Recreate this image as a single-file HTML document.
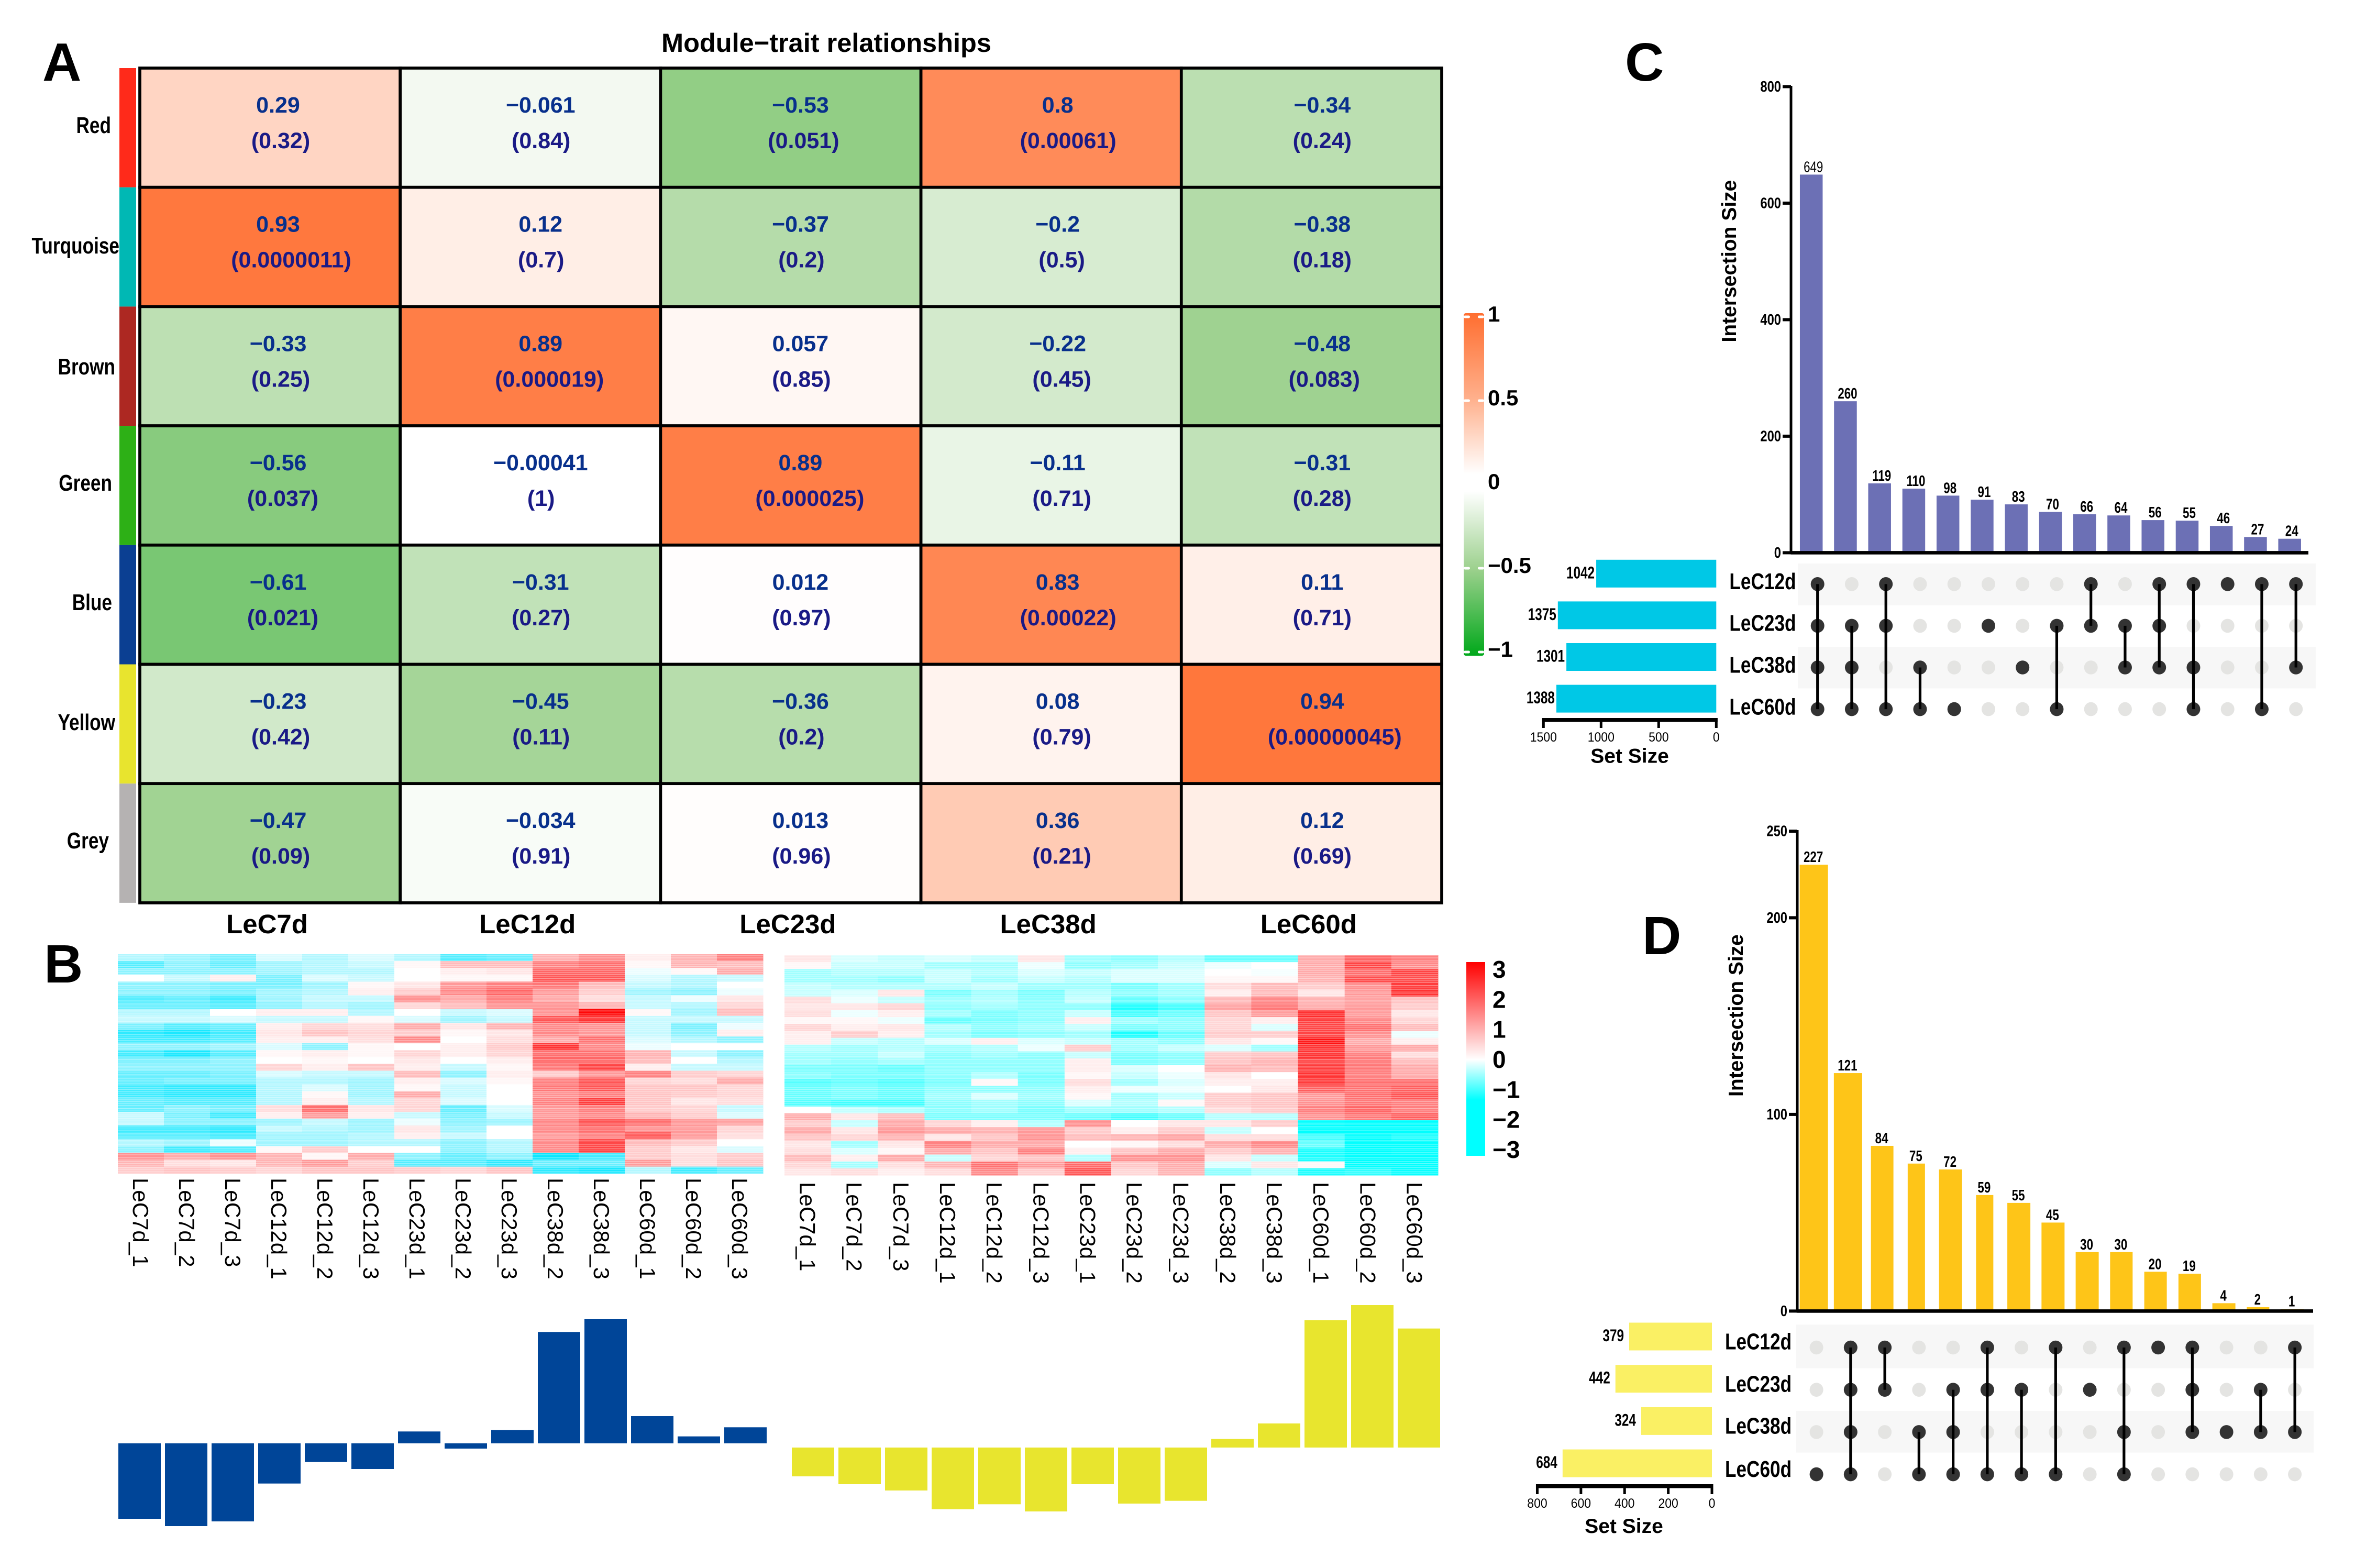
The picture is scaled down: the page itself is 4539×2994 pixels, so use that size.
<!DOCTYPE html>
<html lang="en">
<head>
<meta charset="utf-8">
<title>Module-trait relationships composite figure</title>
<style>
html,body{margin:0;padding:0;background:#fff;}
svg{display:block;}
text{font-family:"Liberation Sans",sans-serif;}
</style>
</head>
<body>
<svg id="figure" xmlns="http://www.w3.org/2000/svg" width="4539" height="2994" viewBox="0 0 4539 2994">
  <defs>
    <linearGradient id="corrGrad" x1="0" y1="0" x2="0" y2="1">
      <stop offset="0" stop-color="#ff6e30"/>
      <stop offset="0.25" stop-color="#ffb08c"/>
      <stop offset="0.47" stop-color="#ffffff"/>
      <stop offset="0.52" stop-color="#ffffff"/>
      <stop offset="0.75" stop-color="#9bd08c"/>
      <stop offset="1" stop-color="#00a81a"/>
    </linearGradient>
    <linearGradient id="exprGrad" x1="0" y1="0" x2="0" y2="1">
      <stop offset="0" stop-color="#ff0000"/>
      <stop offset="0.504" stop-color="#ffffff"/>
      <stop offset="0.712" stop-color="#00ffff"/>
      <stop offset="1" stop-color="#00ffff"/>
    </linearGradient>
    <pattern id="stripes" width="10" height="47" patternUnits="userSpaceOnUse">
      <rect x="0" y="1" width="10" height="1.5" fill="#fff" opacity=".4"/>
      <rect x="0" y="4.5" width="10" height="1" fill="#fff" opacity=".3"/>
      <rect x="0" y="8" width="10" height="2" fill="#fff" opacity=".28"/>
      <rect x="0" y="12" width="10" height="1" fill="#fff" opacity=".42"/>
      <rect x="0" y="15" width="10" height="2.5" fill="#fff" opacity=".26"/>
      <rect x="0" y="20" width="10" height="1" fill="#fff" opacity=".4"/>
      <rect x="0" y="23" width="10" height="1.5" fill="#fff" opacity=".3"/>
      <rect x="0" y="27" width="10" height="1" fill="#fff" opacity=".38"/>
      <rect x="0" y="30" width="10" height="2.5" fill="#fff" opacity=".24"/>
      <rect x="0" y="35" width="10" height="1" fill="#fff" opacity=".42"/>
      <rect x="0" y="38" width="10" height="1.5" fill="#fff" opacity=".3"/>
      <rect x="0" y="42" width="10" height="2" fill="#fff" opacity=".26"/>
    </pattern>
  </defs>
  <rect x="0" y="0" width="4539" height="2994" fill="#ffffff"/>
  <text x="81" y="154" font-size="103" font-weight="700">A</text>
  <text x="84" y="1876" font-size="103" font-weight="700">B</text>
  <text x="3103" y="154" font-size="103" font-weight="700">C</text>
  <text x="3136" y="1822" font-size="103" font-weight="700">D</text>
  <text x="1263" y="99" font-size="50.5" font-weight="700">Module−trait relationships</text>
</svg>
<script>
/* ---------- Panel A data ---------- */
const moduleNames = ['Red','Turquoise','Brown','Green','Blue','Yellow','Grey'];
const moduleColors = ['#ff2a1a','#00b8b4','#ad2822','#2db016','#0b3f92','#e8e42e','#b5b2b2'];
const traitNames = ['LeC7d','LeC12d','LeC23d','LeC38d','LeC60d'];
const corrRed = [0.29,-0.061,-0.53,0.8,-0.34];
const corrTurquoise = [0.93,0.12,-0.37,-0.2,-0.38];
const corrBrown = [-0.33,0.89,0.057,-0.22,-0.48];
const corrGreen = [-0.56,-0.00041,0.89,-0.11,-0.31];
const corrBlue = [-0.61,-0.31,0.012,0.83,0.11];
const corrYellow = [-0.23,-0.45,-0.36,0.08,0.94];
const corrGrey = [-0.47,-0.034,0.013,0.36,0.12];
const pRed = ['0.32','0.84','0.051','0.00061','0.24'];
const pTurquoise = ['0.0000011','0.7','0.2','0.5','0.18'];
const pBrown = ['0.25','0.000019','0.85','0.45','0.083'];
const pGreen = ['0.037','1','0.000025','0.71','0.28'];
const pBlue = ['0.021','0.27','0.97','0.00022','0.71'];
const pYellow = ['0.42','0.11','0.2','0.79','0.00000045'];
const pGrey = ['0.09','0.91','0.96','0.21','0.69'];
const corrMatrix = [corrRed,corrTurquoise,corrBrown,corrGreen,corrBlue,corrYellow,corrGrey];
const pMatrix = [pRed,pTurquoise,pBrown,pGreen,pBlue,pYellow,pGrey];
const corrLegendTicks = [1,0.5,0,-0.5,-1];

/* ---------- Panel B data ---------- */
const sampleNames = ['LeC7d_1','LeC7d_2','LeC7d_3','LeC12d_1','LeC12d_2','LeC12d_3','LeC23d_1','LeC23d_2','LeC23d_3','LeC38d_2','LeC38d_3','LeC60d_1','LeC60d_2','LeC60d_3'];
const exprBlue = [
[-0.4,-0.5,-0.7,-0.2,-0.4,-0.2,-0.4,-0.9,-0.8,0.9,1.3,0.2,0.9,1.5],
[-0.9,-0.6,-0.8,-0.5,-0.4,-0.3,0.1,0.8,0.8,1.5,1.7,0.1,0.9,0.8],
[-0.6,-0.6,-0.6,-0.5,-0.4,-0.4,0,0.2,0.3,1.8,1.8,-0.1,0.1,1.0],
[0,-0.3,0.2,-0.7,-0.2,-0.3,0,0.1,0.1,2.0,2.0,-0.2,-0.4,-0.3],
[-0.6,-0.6,-0.7,-0.7,-0.5,0.1,0.3,1.2,1.5,1.6,0.8,-0.3,-0.4,0],
[-0.6,-0.6,-0.7,-0.5,-0.4,0.2,0.6,1.4,1.8,1.2,0.6,-0.5,-0.6,-0.1],
[-0.9,-0.8,-1,-0.5,-0.3,-0.3,1.3,1.0,1.5,1.0,0.4,-0.3,-0.1,0.3],
[-0.8,-0.8,-0.9,-0.6,-0.4,-0.5,0.5,0.8,1.3,1.3,0.9,-0.3,-0.4,0.5],
[-0.4,-0.4,0,0.2,0.2,-0.4,0,-0.3,-0.2,1.3,3.0,0.1,-0.5,0.8],
[-0.3,-0.3,-0.2,-0.3,-0.3,0.1,-0.2,-0.5,-0.3,2.0,2.4,-0.3,-0.3,-0.3],
[-0.7,-0.9,-0.8,0.2,0.5,0.4,1.0,0.3,0.9,1.4,1.3,-0.3,-0.7,-0.1],
[-1.1,-1.2,-1,0.3,0.7,0.5,0.6,0.1,0.3,1.4,1.2,-0.3,-0.6,0.2],
[-1,-1,-0.9,0.2,0.2,0.4,1.4,0,0.4,1.0,1.7,-0.2,-0.4,-0.6],
[-0.6,-0.6,-0.5,-0.2,-0.6,0.1,0,0.2,0.6,2.4,1.4,-0.1,0,0],
[-1,-1.2,-0.9,0.1,0.2,0.1,0.5,0.2,0.5,1.7,1.7,0.9,-0.3,-0.6],
[-0.7,-0.7,-0.6,0,0.1,0,0.3,0,0.2,1.8,1.8,0.8,0,-0.4],
[-0.6,-0.6,-0.6,0.5,0.2,0.7,0.2,-0.3,0.1,1.6,2.2,0.2,-0.3,-0.3],
[-0.8,-0.8,-0.7,-0.2,-0.3,-0.3,0.8,-0.6,0.2,0.6,1.2,1.5,0.6,0.5],
[-0.8,-0.7,-0.7,-0.4,-0.4,-0.5,0.2,-0.2,0.1,1.5,2.0,0.5,0.4,1.0],
[-1,-1.1,-1.1,-0.4,-0.2,-0.5,0.1,-0.3,0,1.6,2.0,0.7,0.7,0.5],
[-1,-1.1,-1.1,-0.4,0.1,-0.5,1.0,-0.3,0,1.3,1.5,0.7,0.6,0.5],
[-0.8,-0.9,-0.9,-0.4,0.2,-0.4,0.5,-0.2,0,1.5,2.3,0.7,0.3,0.4],
[-0.8,-0.6,-0.7,0.4,1.7,0.3,0.5,-0.8,-0.2,1.2,1.5,0.6,0.5,-0.3],
[-0.3,-0.7,-1.0,0.2,1.2,0.2,-0.3,-0.7,-0.3,1.2,1.4,0.9,0.6,-0.2],
[-0.3,-0.6,-0.6,-0.5,-0.3,-0.5,-0.1,-0.6,-0.5,1.4,2.0,1.7,1.2,1.1],
[-1,-1,-1.1,-0.3,-0.4,-0.5,0.3,-0.5,0,1.4,1.7,1.3,1.2,0.5],
[-0.9,-0.9,-1.0,-0.5,-0.5,-0.4,0.2,-0.3,0,1.2,1.5,2.0,1.2,0.4],
[-0.4,-0.5,-0.1,-0.5,-0.5,-0.4,-0.4,-0.6,-0.4,1.4,2.2,0.8,0.6,0],
[-0.6,-1,-0.9,0.1,0.6,0,0,-0.6,-0.4,1.4,2.2,0.6,0.3,-0.2],
[1.3,1.0,1.3,0.9,0.1,1.0,-0.6,-0.8,-0.6,-1.3,-1.0,0.6,0.4,0.6],
[0.9,0.4,0.3,0.9,1.2,0.6,-0.9,-0.9,-1.1,-0.8,-0.8,1.2,0.4,0.7],
[0.6,0.7,0.6,0.5,0.7,0.7,0.6,0.5,0.7,-1.1,-1.2,-0.4,-1,-0.8]
];
const exprYellow = [
[0.3,-0.2,-0.3,-0.2,-0.3,0.3,-0.5,-0.6,-0.4,-0.8,-0.8,1.0,1.8,1.5],
[0.1,-0.3,-0.3,-0.5,-0.5,-0.1,-0.6,-0.5,-0.3,-0.1,0,1.0,2.2,1.4],
[-0.5,-0.4,-0.4,-0.3,-0.4,-0.2,-0.3,-0.2,-0.2,0,-0.05,1.0,1.7,2.2],
[-0.5,-0.5,-0.6,-0.3,-0.5,-0.3,-0.4,-0.2,-0.2,0.1,0.1,0.9,2.1,2.1],
[-0.3,-0.4,-0.4,-0.4,-0.3,-0.5,-0.5,-0.7,-0.5,0.4,0.8,0.6,1.3,2.3],
[-0.3,-0.2,0.3,-0.7,-0.5,-0.7,-0.4,-0.6,-0.5,0.2,0.8,0.3,1.2,2.4],
[0.4,-0.1,-0.3,-0.5,-0.4,-0.6,-0.3,-0.8,-0.6,0.8,1.4,0.9,1.1,0.7],
[0.3,0.3,0.5,-0.6,-0.5,-0.6,-0.6,-1.2,-1.0,1.1,1.6,1.0,1.2,0.6],
[0.4,-0.1,0.2,-0.5,-0.7,-0.6,-0.3,-1.0,-0.8,0.7,1.2,2.5,1.2,0.3],
[0.1,0.1,-0.1,-0.8,-0.7,-0.6,0.2,-0.5,-0.6,0.5,0.2,2.3,1.4,0.5],
[0.5,0.2,0.3,-0.4,-0.6,-0.5,-0.3,-0.7,-0.6,0.5,-0.2,2.2,1.7,0.8],
[0.2,0.6,0.2,-0.5,-0.7,-0.6,-0.5,-1.2,-0.8,0.6,0.6,2.2,1.3,-0.1],
[0.2,-0.3,-0.4,-0.2,0.2,-0.2,-0.3,-0.5,-0.6,0.3,0.1,2.8,1.0,0.2],
[-0.4,-0.5,-0.4,-0.5,-0.4,-0.1,0.6,-0.5,-0.3,-0.2,-0.5,2.4,1.2,1.0],
[-0.5,-0.5,-0.3,-0.6,-0.5,-0.6,-0.3,-0.7,-0.6,0.6,0.7,2.4,1.5,0.4],
[-0.5,-0.6,-0.5,-0.6,-0.6,-0.6,0.2,-0.7,-0.6,0.7,0.9,2.2,1.6,0.8],
[-0.7,-0.7,-0.8,-0.6,-0.6,-0.6,0.2,-0.2,0,0.9,0.8,2.3,1.6,1.0],
[-0.6,-0.7,-0.7,-0.6,-0.4,-0.7,0.1,-0.3,-0.1,0.3,0,2.4,1.5,1.0],
[-0.9,-0.8,-0.9,-0.7,0.1,-0.7,0.4,-0.5,-0.2,0.2,0.2,2.3,1.7,1.7],
[-0.8,-0.7,-0.8,-0.6,-0.6,-0.6,0.2,-0.1,-0.1,0,0.3,1.9,1.7,1.9],
[-0.8,-0.7,-0.8,-0.5,-0.2,-0.5,0.1,-0.5,-0.3,0.6,0.7,1.2,1.7,2.0],
[-0.9,-1,-1,-0.6,-0.5,-0.6,-0.2,-0.4,0.1,0.6,0.7,1.3,1.6,1.5],
[0,-0.3,-0.4,-0.6,-0.5,-0.7,-0.5,-0.5,-0.4,0.4,0.6,1.5,1.8,1.5],
[1.0,0.3,0.8,-0.7,-0.7,-0.7,-0.8,-1,-0.8,-0.4,-0.4,1.3,1.6,1.9],
[0.6,-0.3,1.0,0.5,0.2,-0.4,1.3,0,0.3,0.3,0.6,-1.3,-2,-1.5],
[1.0,0.3,1.2,1,0.9,1.2,0.6,0.2,0.6,-0.3,0,-1.5,-2,-1.8],
[0.7,0.5,0.9,0.3,0.7,1.3,0.8,0.9,1.1,0.4,0.4,-1,-2,-1.2],
[0.3,-0.5,0.3,1.5,1.0,1.0,0,0.1,0.4,1.0,1.4,-0.8,-2,-1.4],
[0.4,-0.2,0.1,1.0,0.7,1.5,0.2,0.7,1.0,0.6,0.9,-1.2,-2,-1.3],
[0.8,0.2,1.0,-0.3,0.5,0.7,-0.4,1.3,1.3,0.3,-0.3,-1.2,-1.6,-1.4],
[0.5,-0.5,0.4,0.9,1.7,1.2,1.8,0.7,1.0,-0.2,0.3,0.1,-2,-1.4],
[0.3,0.4,0.2,0.4,1.4,0.6,2.0,0.5,0.9,-0.6,-0.4,-1.2,-1.1,-1.3]
];
const exprLegendTicks = [3,2,1,0,-1,-2,-3];
const eigenBlue = [-144,-158,-149,-76.7,-35.7,-49,22.7,-10,25.3,212.7,237,52,13.3,30.7];
const eigenYellow = [-55,-70,-82,-117.7,-108.3,-122,-70,-107,-101.7,16.3,46,243,272,227.3];

/* ---------- Panel C / D data ---------- */
const setNames = ['LeC12d','LeC23d','LeC38d','LeC60d'];
const cIntersections = [649,260,119,110,98,91,83,70,66,64,56,55,46,27,24];
const cSetSizes = [1042,1375,1301,1388];
const cMembers = [[0,1,2,3],[1,2,3],[0,1,3],[2,3],[3],[1],[2],[1,3],[0,1],[1,2],[0,1,2],[0,2,3],[0],[0,3],[0,2]];
const cYTicks = [0,200,400,600,800];
const cYTickLabels = ['0','200','400','600','800'];
const cSetTicks = [1500,1000,500,0];
const dIntersections = [227,121,84,75,72,59,55,45,30,30,20,19,4,2,1];
const dSetSizes = [379,442,324,684];
const dMembers = [[3],[0,1,2,3],[0,1],[2,3],[1,2,3],[0,1,3],[1,3],[0,3],[1],[0,2,3],[0],[0,1,2],[2],[1,2],[0,2]];
const dYTicks = [0,100,200,244];
const dYTickLabels = ['0','100','200','250'];
const dSetTicks = [800,600,400,200,0];

/* ---------- helpers ---------- */
const NS = 'http://www.w3.org/2000/svg';
const root = document.getElementById('figure');

function shape(tag, name, attrs) {
  const el = document.createElementNS(NS, tag);
  
  
  for (const k in attrs) { el.setAttribute(k, attrs[k]); }
  root.appendChild(el);
  return el;
}
function rect(name, x, y, w, h, fill) {
  return shape('rect', name, {x: x, y: y, width: w, height: h, fill: fill});
}
function label(name, str, x, y, size, opt) {
  const o = opt || {};
  const el = shape('text', name, {
    transform: 'translate(' + x + ' ' + y + ') rotate(' + (o.rot || 0) + ') scale(' + (o.sx || 1) + ' 1)',
    'font-size': size,
    'font-weight': o.weight || 700,
    'text-anchor': o.anchor || 'start',
    fill: o.fill || '#000'
  });
  el.textContent = str;
  return el;
}
function minus(v) { return String(v).replace('-', '\u2212'); }
function mix(a, b, t) {
  return 'rgb(' + a.map(function (c, i) { return Math.round(c + (b[i] - c) * t); }).join(',') + ')';
}

/* ---------- Panel A ---------- */
const gridX = function (c) { return 267 + 497.2 * c; };
const gridY = function (r) { return 130 + 227.7 * r; };
const corrLineNudge = [-5, -1, -2, -8, 0];
function corrColor(v) {
  const white = [255, 255, 255];
  if (v >= 0) { return mix(white, [255, 110, 48], Math.min(1, v)); }
  const a = -v;
  if (a <= 0.5) { return mix(white, [155, 208, 140], a / 0.5); }
  return mix([155, 208, 140], [0, 168, 26], Math.min(1, (a - 0.5) / 0.5));
}
moduleNames.forEach(function (m, r) {
  rect('module-color-' + m.toLowerCase(), 228, gridY(r), 32, 227.7, moduleColors[r]);
});
const moduleLabelRight = [212, 228, 220, 214, 214, 220, 208];
const moduleLabelBase = [254, 484, 715, 937, 1165, 1394, 1620];
moduleNames.forEach(function (m, r) {
  label('module-label-' + m.toLowerCase(), m, moduleLabelRight[r], moduleLabelBase[r], 44, {anchor: 'end', sx: 0.8});
});
corrMatrix.forEach(function (row, r) {
  row.forEach(function (v, c) {
    const cell = rect('correlation-cell', gridX(c), gridY(r), 497.2, 227.7, corrColor(v));
    cell.setAttribute('stroke', '#000');
    cell.setAttribute('stroke-width', '5.7');
  });
});
corrMatrix.forEach(function (row, r) {
  row.forEach(function (v, c) {
    const cx = gridX(c) + 269;
    const p = '(' + pMatrix[r][c] + ')';
    label('correlation-value', minus(v), cx + corrLineNudge[c], gridY(r) + 85, 43, {anchor: 'middle', fill: '#08308c'});
    label('p-value', p, cx + Math.max(0, p.length - 6) * 4, gridY(r) + 153, 43, {anchor: 'middle', fill: '#1a1a86'});
  });
});
traitNames.forEach(function (t, c) {
  label('trait-label', t, gridX(c) + 243, 1782, 51, {anchor: 'middle'});
});
rect('correlation-legend-bar', 2795, 598, 39, 654, 'url(#corrGrad)').setAttribute('rx', '4');
const corrLegY = function (v) { return 925 - 320 * v; };
corrLegendTicks.forEach(function (v) {
  rect('correlation-legend-tick', 2795, corrLegY(v) - 2.5, 12, 5, '#fff').setAttribute('rx', '2.5');
  rect('correlation-legend-tick', 2822, corrLegY(v) - 2.5, 12, 5, '#fff').setAttribute('rx', '2.5');
  label('correlation-legend-label', minus(v), 2841, corrLegY(v) + 9, 42);
});

/* ---------- Panel B ---------- */
function exprColor(v, cyan) {
  if (v >= 0) { return mix([255, 255, 255], [255, 0, 0], Math.min(1, v / 3)); }
  return mix([255, 255, 255], cyan, Math.min(1, -v / 1.34));
}
function drawHeat(data, left, top, colW, rowH, cyan, labelTop, prefix) {
  data.forEach(function (row, r) {
    row.forEach(function (v, c) {
      rect(prefix + '-heatmap-cell', left + c * colW, top + r * rowH, colW + 0.5, rowH + 0.5, exprColor(v, cyan));
    });
  });
  rect(prefix + '-heatmap-texture', left, top, colW * data[0].length, rowH * data.length, 'url(#stripes)');
  sampleNames.forEach(function (s, c) {
    label(prefix + '-sample-label', s, left + (c + 0.5) * colW - 15, labelTop, 42, {weight: 400, rot: 90});
  });
}
drawHeat(exprBlue, 225, 1822, 88, 418.7 / exprBlue.length, [0, 229, 255], 2249, 'blue');
drawHeat(exprYellow, 1498, 1824, 89.14, 420 / exprYellow.length, [0, 255, 255], 2257, 'yellow');
rect('expression-legend-bar', 2800, 1837, 36, 370, 'url(#exprGrad)');
const exprLegY = function (v) { return 2023 - 57.3 * v; };
exprLegendTicks.forEach(function (v) {
  label('expression-legend-label', minus(v), 2850, exprLegY(v) + 16, 46);
});
function drawEigen(values, left, base, color, prefix) {
  const bx = function (i) { return left + 89 * i; };
  const by = function (v) { return base - v; };
  values.forEach(function (v, i) {
    rect(prefix + '-eigengene-bar', bx(i), Math.min(by(v), base), 81, Math.abs(v), color);
  });
}
drawEigen(eigenBlue, 226, 2756, '#004598', 'blue');
drawEigen(eigenYellow, 1512, 2764, '#e8e52e', 'yellow');

/* ---------- Panels C and D ---------- */
function drawUpset(cfg) {
  const p = cfg.prefix;
  const y = function (v) { return cfg.y0 - v * cfg.yScale; };
  const dotX = function (i) { return cfg.dotX0 + 65.25 * i; };
  const rowY = function (r) { return cfg.rowY0 + cfg.rowStep * r; };
  const setX = function (v) { return cfg.setRight - v * cfg.setScale; };

  cfg.values.forEach(function (v, i) {
    const w = cfg.widths ? cfg.widths[i] : 43.5;
    const cx = dotX(i) + cfg.barOffset;
    rect(p + '-intersection-bar', cx - w / 2, y(v), w, v * cfg.yScale, cfg.barColor);
    label(p + '-intersection-value', String(v), cx + cfg.valOffset, y(v) - 5, 29, {anchor: 'middle', sx: 0.77, weight: (v === 649 ? 400 : 700)});
  });
  rect(p + '-y-axis', cfg.axisX - 2.5, cfg.axisTop, 5, cfg.y0 - cfg.axisTop + 3, '#000');
  rect(p + '-x-axis', cfg.axisX, cfg.y0 - 3.3, cfg.axisRight - cfg.axisX, 6.6, '#000');
  cfg.ticks.forEach(function (t, i) {
    rect(p + '-y-tick', cfg.axisX - 16, y(t) - 3, 16, 6, '#000');
    label(p + '-y-tick-label', cfg.tickLabels[i], cfg.axisX - 19, y(t) + 9.5, 29, {anchor: 'end', sx: 0.82});
  });
  label(p + '-y-axis-title', 'Intersection Size', cfg.titleX, cfg.titleY, 39, {anchor: 'middle', rot: -90});

  cfg.bands.forEach(function (b) {
    rect(p + '-matrix-band', cfg.bandX, b[0], cfg.bandW, b[1] - b[0], '#f7f7f7');
  });
  cfg.members.forEach(function (m, i) {
    setNames.forEach(function (s, r) {
      const dot = shape('ellipse', p + '-matrix-dot', {cx: dotX(i), cy: rowY(r), rx: 13, ry: 13.3, fill: m.indexOf(r) >= 0 ? '#333333' : '#e4e4e2'});
      dot.setAttribute('data-set', s);
    });
  });
  cfg.members.forEach(function (m, i) {
    if (m.length > 1) {
      const a = rowY(m[0]);
      const b = rowY(m[m.length - 1]);
      rect(p + '-matrix-link', dotX(i) - 2.6, a, 5.2, b - a, '#000');
    }
  });
  setNames.forEach(function (s, r) {
    const v = cfg.sets[r];
    rect(p + '-set-size-bar', setX(v), rowY(r) + cfg.setOffset - 26.5, v * cfg.setScale, 53, cfg.setColor);
    label(p + '-set-size-value', String(v), setX(v) - cfg.setLabelGap, rowY(r) + cfg.setOffset + 9, 32, {anchor: 'end', sx: 0.76});
    label(p + '-set-label', s, cfg.setLabelX, cfg.setLabelBase[r], 44, {sx: 0.8});
  });
  rect(p + '-set-axis', setX(cfg.setTicks[0]) - 2.5, cfg.setAxisY, setX(0) - setX(cfg.setTicks[0]) + 5, 7.5, '#000');
  cfg.setTicks.forEach(function (t) {
    rect(p + '-set-tick', setX(t) - 2.5, cfg.setAxisY, 5, 19, '#000');
    label(p + '-set-tick-label', String(t), setX(t), cfg.setAxisY + 45, 25, {anchor: 'middle', weight: 400, sx: 0.92});
  });
  label(p + '-set-axis-title', 'Set Size', cfg.setTitleX, cfg.setTitleY, 39, {anchor: 'middle'});
}
drawUpset({
  prefix: 'upset-c', values: cIntersections, sets: cSetSizes, members: cMembers,
  ticks: cYTicks, tickLabels: cYTickLabels, setTicks: cSetTicks,
  y0: 1055.4, yScale: 1.1125, dotX0: 3470.7, barOffset: -12, valOffset: 4,
  barColor: '#6c70b5', setColor: '#00c8e6',
  axisX: 3420, axisTop: 164, axisRight: 4408, titleX: 3315, titleY: 498.6,
  bandX: 3433, bandW: 989, bands: [[1076, 1155.7], [1235, 1314.3]],
  rowY0: 1115.3, rowStep: 79.6, setRight: 3277.3, setScale: 0.22, setOffset: -20, setLabelGap: 3,
  setLabelX: 3302.4, setLabelBase: [1125, 1204.3, 1284.3, 1364.3],
  setAxisY: 1371, setTitleX: 3112, setTitleY: 1456.7
});
drawUpset({
  prefix: 'upset-d', values: dIntersections, sets: dSetSizes, members: dMembers,
  widths: [54, 54, 43, 33, 44, 33, 44, 44, 44, 43, 43, 43, 44, 43, 44],
  ticks: dYTicks, tickLabels: dYTickLabels, setTicks: dSetTicks,
  y0: 2503.4, yScale: 3.755, dotX0: 3468.6, barOffset: -5, valOffset: -1,
  barColor: '#fec518', setColor: '#faf064',
  axisX: 3432, axisTop: 1585, axisRight: 4417, titleX: 3328, titleY: 1939,
  bandX: 3430, bandW: 988, bands: [[2529.3, 2612.7], [2694, 2773.7]],
  rowY0: 2573, rowStep: 80.7, setRight: 3269, setScale: 0.4169, setOffset: -21, setLabelGap: 10,
  setLabelX: 3294, setLabelBase: [2576.7, 2657.3, 2737.3, 2820],
  setAxisY: 2834, setTitleX: 3101, setTitleY: 2927
});
</script>
</body>
</html>
